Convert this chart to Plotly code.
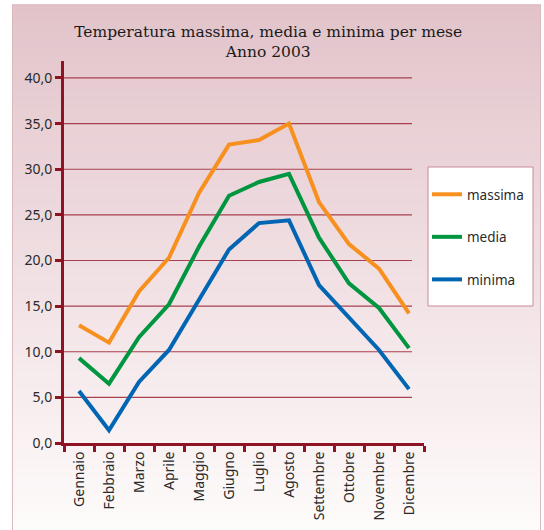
import plotly.graph_objects as go

mesi = ["Gennaio", "Febbraio", "Marzo", "Aprile", "Maggio", "Giugno",
        "Luglio", "Agosto", "Settembre", "Ottobre", "Novembre", "Dicembre"]
massima = [12.9, 11.0, 16.6, 20.3, 27.4, 32.7, 33.2, 35.0, 26.4, 21.8, 19.1, 14.2]
media = [9.3, 6.5, 11.6, 15.2, 21.5, 27.1, 28.6, 29.5, 22.5, 17.5, 14.8, 10.4]
minima = [5.7, 1.4, 6.7, 10.2, 15.7, 21.2, 24.1, 24.4, 17.3, 13.7, 10.2, 5.9]
y_ticks = [0, 5, 10, 15, 20, 25, 30, 35, 40]

W, H = 544, 530
L, R, T, B = 64, 120, 61, 87
pw, ph = W - L - R, H - T - B

def px_x(p):
    return (p - L) / pw

def px_y(p):
    return (H - B - p) / ph

fig = go.Figure()
series = [("massima", massima, "#f7901e"),
          ("media", media, "#00963f"),
          ("minima", minima, "#0065b3")]
for i, (name, vals, col) in enumerate(series):
    fig.add_trace(go.Scatter(x=mesi, y=vals, name=name, mode="lines",
                             line=dict(color=col, width=4),
                             legendgroup=name))

shapes = []
# gradient background panel
top_c = (226, 195, 202)
bot_c = (254, 251, 251)
y0p, y1p = 5, 530
n = 60
for k in range(n):
    a = y0p + (y1p - y0p) * k / n
    b = y0p + (y1p - y0p) * (k + 1) / n
    t = (k + 0.5) / n
    c = tuple(round(top_c[j] + (bot_c[j] - top_c[j]) * t) for j in range(3))
    shapes.append(dict(type="rect", xref="paper", yref="paper",
                       x0=px_x(12), x1=px_x(541), y0=px_y(b), y1=px_y(a) + 0.002,
                       fillcolor="rgb(%d,%d,%d)" % c, line=dict(width=0),
                       layer="below"))
shapes.append(dict(type="rect", xref="paper", yref="paper",
                   x0=px_x(12.5), x1=px_x(540.5), y0=px_y(535), y1=px_y(5),
                   line=dict(color="#dcb8bf", width=1), layer="below"))
# legend box
shapes.append(dict(type="rect", xref="paper", yref="paper",
                   x0=px_x(428), x1=px_x(533), y0=px_y(306), y1=px_y(167),
                   fillcolor="white", line=dict(color="#c98a96", width=1),
                   layer="below"))
# gridlines
for v in y_ticks[1:]:
    shapes.append(dict(type="line", xref="paper", yref="y",
                       x0=0, x1=px_x(412), y0=v, y1=v,
                       line=dict(color="#a8404f", width=1.2), layer="below"))

fig.update_layout(
    width=W, height=H,
    margin=dict(l=L, r=R, t=T, b=B, pad=0),
    paper_bgcolor="white",
    plot_bgcolor="rgba(0,0,0,0)",
    shapes=shapes,
    separators=",.",
    title=dict(text="Temperatura massima, media e minima per mese<br>Anno 2003",
               font=dict(family="DejaVu Serif", size=15.5, color="#1a1a1a"),
               x=0.493, xref="container", xanchor="center",
               y=1 - 37 / H, yref="container", yanchor="top"),
    font=dict(family="Noto Sans", size=14, color="#2a2a2a"),
    xaxis=dict(range=[-0.5, 11.5], autorange=False,
               showgrid=False, showline=True, linecolor="#8e1424", linewidth=3,
               ticks="outside", tickson="boundaries", ticklen=6, tickwidth=3,
               tickcolor="#8e1424", tickangle=-90, zeroline=False,
               automargin=False,
               tickfont=dict(family="Noto Sans", size=14, color="#2a2a2a")),
    yaxis=dict(range=[0, 41.86], autorange=False, tickvals=y_ticks, tickformat=".1f",
               showgrid=False, showline=True, linecolor="#8e1424", linewidth=3,
               ticks="outside", ticklen=6, tickwidth=3, tickcolor="#8e1424",
               zeroline=False, automargin=False,
               tickfont=dict(family="Noto Sans", size=14, color="#2a2a2a")),
    legend=dict(x=px_x(427), y=px_y(179), xanchor="left", yanchor="top",
                bgcolor="rgba(0,0,0,0)", borderwidth=0,
                tracegroupgap=22,
                font=dict(family="Noto Sans", size=13.5, color="#2a2a2a")),
)

fig.write_html("out.html", config={"displayModeBar": False},
               post_script="document.body.style.margin='0';")
